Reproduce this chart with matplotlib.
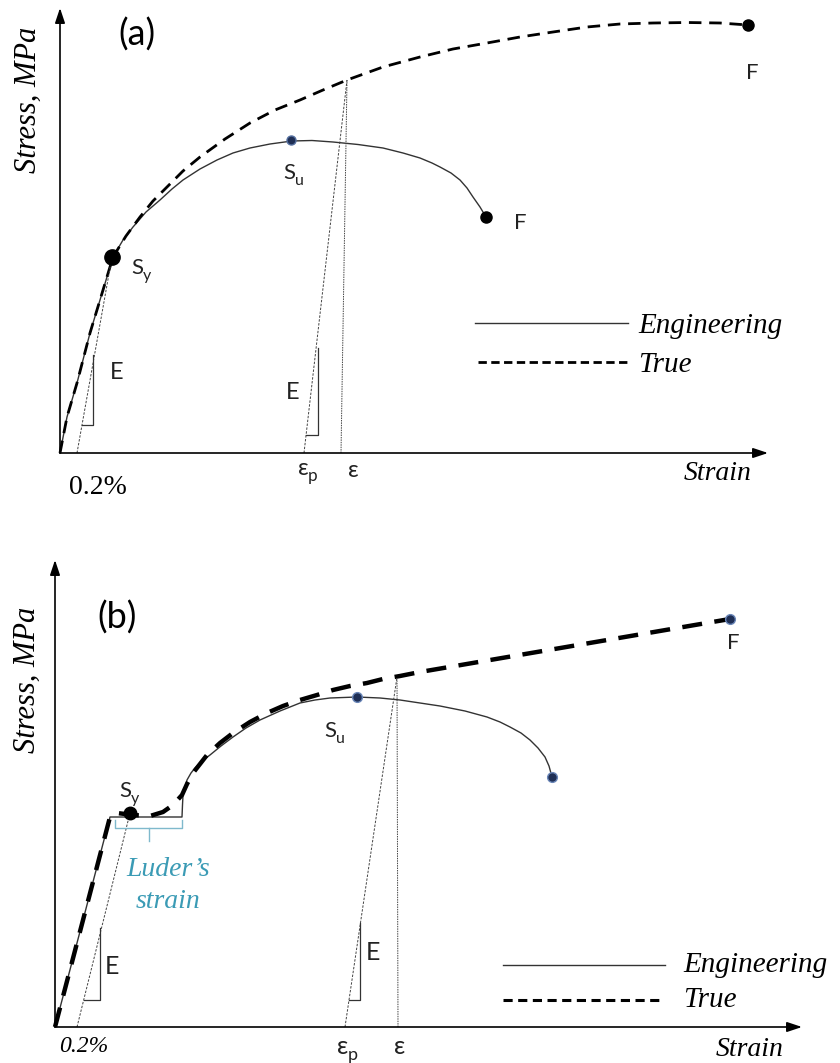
import matplotlib.pyplot as plt

plt.rcParams['font.family'] = ['Lato', 'Open Sans', 'DejaVu Sans']

SANS = ['Lato', 'Open Sans', 'DejaVu Sans']
SERIF = ['Liberation Serif', 'DejaVu Serif']
NAVY = '#1f2f55'
TEAL = '#3b9bb5'

# ---- (a) continuous yielding ----
a_eng_x = [0, 7, 17, 30, 40, 53, 63, 73, 86, 100, 112, 123, 140, 157, 173, 190, 210, 232, 252,
           273, 298, 323, 343, 360, 372, 380, 391, 400, 407, 413, 420, 426]
a_eng_y = [0, 36, 70, 120, 153, 196, 213, 226, 241, 253, 264, 273, 284, 293, 300, 305, 309, 312,
           312.5, 311, 308.5, 305, 300, 295, 290, 286, 280, 273, 265, 256, 246, 236]
a_true_x = [0, 7, 17, 30, 40, 53, 66, 80, 93, 107, 123, 140, 165, 190, 215, 240, 263, 287, 323,
            360, 393, 427, 460, 493, 527, 560, 593, 627, 660, 688]
a_true_y = [0, 36, 70, 120, 153, 196, 217, 236, 252, 266, 282, 296, 314, 330, 343, 353, 363, 373,
            386, 396, 404, 410, 416, 421, 426, 429, 430, 430.5, 430, 428]
a_yield = (52, 196)
a_uts = (231, 313)
a_frac_eng = (426, 236)
a_frac_true = (688, 428)
a_offset_x = [17, 52]
a_offset_y = [0, 196]
a_unload_x = [244, 287]
a_unload_y = [0, 373]
a_eps_x = [281, 287]
a_eps_y = [0, 373]
a_tri1_x = [22, 33, 33]
a_tri1_y = [28, 28, 98]
a_tri2_x = [246, 258, 258]
a_tri2_y = [18, 18, 105]

# ---- (b) discontinuous yielding with Luders plateau ----
b_eng_x = [0, 55, 127, 127.5, 128, 130, 132, 136, 140, 147, 155, 166, 178, 191, 205, 225, 245,
           260, 275, 302, 325, 345, 365, 385, 410, 432, 445, 455, 466, 475, 483, 490, 494, 497]
b_eng_y = [0, 210, 210, 222, 232, 240, 247, 254, 259, 266, 272, 281, 290, 299, 307, 316, 324,
           327, 329, 330, 329, 327, 324, 321, 316, 310, 305, 300, 294, 287, 279, 270, 261, 250]
b_true_x = [0, 55, 62, 78, 95, 108, 118, 127, 132, 138, 145, 152, 165, 178, 195, 212, 228, 245,
            262, 278, 295, 312, 328, 345, 365, 675]
b_true_y = [0, 210, 214, 212, 211, 215, 222, 232, 243, 254, 263, 272, 284, 294, 305, 314, 321,
            327, 332, 337, 341, 344, 348, 351, 355, 408]
b_yield = (75, 214)
b_uts = (302, 330)
b_frac_eng = (497, 250)
b_frac_true = (675, 408)
b_offset_x = [22, 75]
b_offset_y = [0, 214]
b_unload_x = [290, 342]
b_unload_y = [0, 350]
b_eps_x = [343, 342]
b_eps_y = [0, 350]
b_tri1_x = [29, 45, 45]
b_tri1_y = [27, 27, 99]
b_tri2_x = [294, 305, 305]
b_tri2_y = [27, 27, 104]
luders_x = [60, 60, 127, 127]
luders_y = [207, 199, 199, 207]

fig = plt.figure(figsize=(8.4, 10.63), dpi=100)
W, H = 840, 1063


def make_axes(ox, oy, w, h):
    ax = fig.add_axes([ox / W, 1 - oy / H, w / W, h / H])
    ax.set_xlim(0, w)
    ax.set_ylim(0, h)
    ax.axis('off')
    return ax


def axis_arrows(ax, xend, yend):
    kw = dict(arrowstyle='-|>,head_length=0.9,head_width=0.3', color='black', lw=1.2,
              shrinkA=0, shrinkB=0)
    ax.annotate('', xy=(xend, 0), xytext=(0, 0), arrowprops=kw, annotation_clip=False)
    ax.annotate('', xy=(0, yend), xytext=(0, 0), arrowprops=kw, annotation_clip=False)


def sub_text(ax, x, y, base, sub, size, color='#222222', shift=0.55):
    t = ax.text(x, y, base, fontsize=size, family=SANS, color=color, ha='left', va='baseline')
    ax.annotate(sub, xy=(x, y), xytext=(size * shift, -size * 0.25), textcoords='offset points',
                fontsize=size * 0.72, family=SANS, color=color, ha='left', va='baseline',
                annotation_clip=False)
    return t


def thin(ax, xs, ys, dash=(2.5, 1.5)):
    ax.plot(xs, ys, color='#444444', lw=0.7, ls=(0, dash), clip_on=False)


# ---------------- panel (a) ----------------
ax = make_axes(60, 453, 760, 450)
axis_arrows(ax, 708, 445)
ax.plot(a_eng_x, a_eng_y, color='#333333', lw=1.0, clip_on=False)
ax.plot(a_true_x, a_true_y, color='black', lw=2.0, ls=(0, (4.5, 2.8)), clip_on=False)
thin(ax, a_offset_x, a_offset_y)
thin(ax, a_unload_x, a_unload_y)
thin(ax, a_eps_x, a_eps_y, dash=(1.5, 1.0))
ax.plot(a_tri1_x, a_tri1_y, color='#333333', lw=0.9, clip_on=False)
ax.plot(a_tri2_x, a_tri2_y, color='#333333', lw=0.9, clip_on=False)
ax.plot(*a_yield, 'o', ms=11, color='black', clip_on=False)
ax.plot(*a_uts, 'o', ms=6.5, color=NAVY, mec='#5570a0', clip_on=False)
ax.plot(*a_frac_eng, 'o', ms=8, color='black', clip_on=False)
ax.plot(*a_frac_true, 'o', ms=8, color='black', clip_on=False)

ax.text(77, 418, '(a)', fontsize=26, family=SANS, ha='center', va='center')
sub_text(ax, 71, 179, 'S', 'y', 16)
sub_text(ax, 223, 274, 'S', 'u', 16)
ax.text(692, 380, 'F', fontsize=16, family=SANS, ha='center', va='center', color='#222222')
ax.text(460, 230, 'F', fontsize=16, family=SANS, ha='center', va='center', color='#222222')
ax.text(57, 81, 'E', fontsize=17, family=SANS, ha='center', va='center', color='#222222')
ax.text(233, 61, 'E', fontsize=17, family=SANS, ha='center', va='center', color='#222222')
sub_text(ax, 238, -22, 'ε', 'p', 17, shift=0.42)
ax.text(293, -17, 'ε', fontsize=17, family=SANS, ha='center', va='center', color='#222222')
ax.text(38, -34, '0.2%', fontsize=20, family=SERIF, ha='center', va='center')
ax.text(658, -20, 'Strain', fontsize=20, family=SERIF, style='italic', ha='center', va='center')
ax.text(-32, 353, 'Stress, MPa', fontsize=22, family=SERIF, style='italic', ha='center',
        va='center', rotation=90)
ax.plot([415, 568], [130, 130], color='#333333', lw=1.0, clip_on=False)
ax.plot([418, 568], [91, 91], color='black', lw=2.0, ls=(0, (3, 1.6)), clip_on=False)
ax.text(578, 127, 'Engineering', fontsize=21, family=SERIF, style='italic', va='center')
ax.text(578, 88, 'True', fontsize=21, family=SERIF, style='italic', va='center')

# ---------------- panel (b) ----------------
bx = make_axes(55, 1027, 770, 480)
axis_arrows(bx, 747, 467)
bx.plot(b_eng_x, b_eng_y, color='#333333', lw=1.0, clip_on=False)
bx.plot(b_true_x, b_true_y, color='black', lw=3.2, ls=(0, (4.5, 2.8)), clip_on=False)
thin(bx, b_offset_x, b_offset_y)
thin(bx, b_unload_x, b_unload_y)
thin(bx, b_eps_x, b_eps_y, dash=(1.5, 1.0))
bx.plot(b_tri1_x, b_tri1_y, color='#333333', lw=0.9, clip_on=False)
bx.plot(b_tri2_x, b_tri2_y, color='#333333', lw=0.9, clip_on=False)
bx.plot(luders_x, luders_y, color='#7fb9cc', lw=1.0, clip_on=False)
bx.plot([93.5, 93.5], [199, 186], color='#7fb9cc', lw=1.0, clip_on=False)
bx.plot(*b_yield, 'o', ms=9, color='black', clip_on=False)
for pt in (b_uts, b_frac_eng, b_frac_true):
    bx.plot(*pt, 'o', ms=7, color=NAVY, mec='#6a86b8', mew=1.0, clip_on=False)

bx.text(62, 409, '(b)', fontsize=26, family=SANS, ha='center', va='center')
sub_text(bx, 64, 230, 'S', 'y', 16)
sub_text(bx, 269, 290, 'S', 'u', 16)
bx.text(678, 384, 'F', fontsize=16, family=SANS, ha='center', va='center', color='#222222')
bx.text(57, 60, 'E', fontsize=18, family=SANS, ha='center', va='center', color='#222222')
bx.text(318, 74, 'E', fontsize=18, family=SANS, ha='center', va='center', color='#222222')
sub_text(bx, 282, -27, 'ε', 'p', 18, shift=0.42)
bx.text(345, -20, 'ε', fontsize=18, family=SANS, ha='center', va='center', color='#222222')
bx.text(29, -20, '0.2%', fontsize=17, family=SERIF, style='italic', ha='center', va='center')
bx.text(695, -22, 'Strain', fontsize=20, family=SERIF, style='italic', ha='center', va='center')
bx.text(-28, 347, 'Stress, MPa', fontsize=22, family=SERIF, style='italic', ha='center',
        va='center', rotation=90)
bx.text(113, 157, 'Luder\u2019s', fontsize=20, family=SERIF, style='italic', color=TEAL,
        ha='center', va='center')
bx.text(113, 125, 'strain', fontsize=20, family=SERIF, style='italic', color=TEAL,
        ha='center', va='center')
bx.plot([448, 610], [62, 62], color='#333333', lw=1.0, clip_on=False)
bx.plot([448, 607], [27, 27], color='black', lw=2.2, ls=(0, (3, 1.8)), clip_on=False)
bx.text(628, 62, 'Engineering', fontsize=21, family=SERIF, style='italic', va='center')
bx.text(628, 27, 'True', fontsize=21, family=SERIF, style='italic', va='center')

fig.savefig('out.png', dpi=100, facecolor='white')
